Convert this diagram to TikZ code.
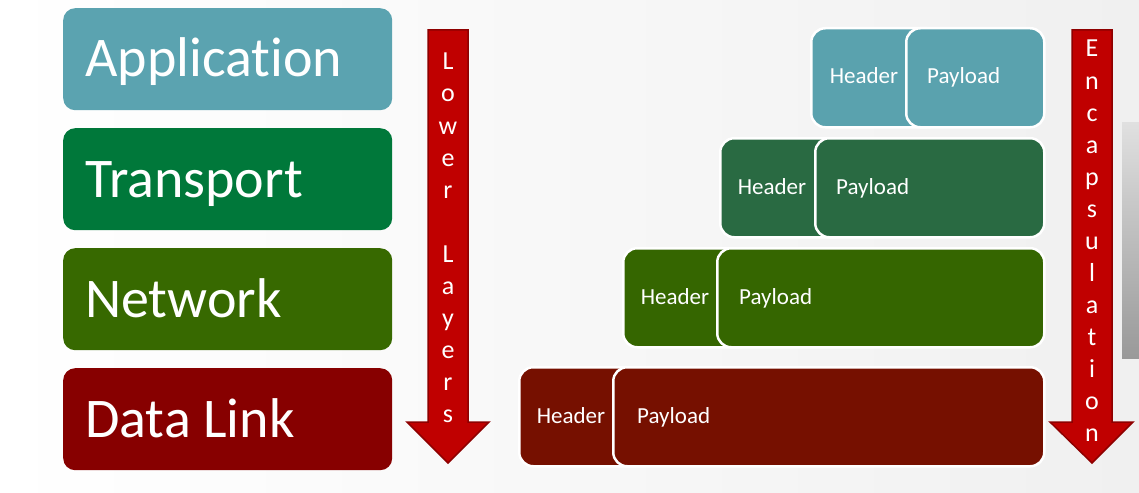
\documentclass[tikz,border=0pt]{standalone}
\usepackage{fontspec}
\setmainfont{Carlito}[Ligatures=NoCommon]
\definecolor{appC}{HTML}{5BA3B0}
\definecolor{traC}{HTML}{00783A}
\definecolor{netC}{HTML}{376900}
\definecolor{dlC}{HTML}{870000}
\definecolor{pAppC}{HTML}{5AA2AE}
\definecolor{pTraC}{HTML}{296A42}
\definecolor{pNetC}{HTML}{356600}
\definecolor{pDlC}{HTML}{761000}
\definecolor{arrC}{HTML}{C00000}
\definecolor{arrE}{HTML}{8E0000}
\definecolor{bgC}{HTML}{F0F0F0}
\begin{document}
\begin{tikzpicture}[x=1pt,y=-1pt,
  layerbox/.style={rectangle,rounded corners=12pt,anchor=north west,
    minimum width=329pt,minimum height=102pt,inner sep=0pt},
  layertext/.style={anchor=base west,text=white,inner sep=0pt,
    font=\fontsize{56}{60}\selectfont},
  pktbox/.style={rectangle,rounded corners=14pt,anchor=north west,
    minimum height=99pt,inner sep=0pt,draw=white,line width=2.5pt},
  pkttext/.style={text=white,inner sep=0pt,font=\fontsize{23}{26}\selectfont},
  arrowbody/.style={fill=arrC,draw=arrE,line width=1.5pt,line join=miter},
  arrowletter/.style={anchor=base,text=white,inner sep=0pt,
    font=\fontsize{26}{28}\selectfont}]
  % page and soft backdrop
  \useasboundingbox (0,0) rectangle (1139,492);
  \shade[left color=white,right color=bgC] (0,0) rectangle (1139,492);
  \shade[top color=black!12,bottom color=black!40] (1122,122) rectangle (1139,358);

  % layer stack
  \node[layerbox,fill=appC] (appB) at (63,8) {};
  \node[layerbox,fill=traC] (traB) at (63,128) {};
  \node[layerbox,fill=netC] (netB) at (63,248) {};
  \node[layerbox,fill=dlC]  (dlB)  at (63,368) {};
  \node[layertext] (appT) at (85,77)  {Application};
  \node[layertext] (traT) at (85,197) {Transport};
  \node[layertext] (netT) at (85,317) {Network};
  \node[layertext] (dlT)  at (85,437) {Data Link};

  % "Lower Layers" arrow
  \draw[arrowbody] (428,30) -- (468,30) -- (468,422) -- (489,422) -- (448,463)
    -- (407,422) -- (428,422) -- cycle;
  \foreach \ch [count=\i from 0] in {L,o,w,e,r,{},L,a,y,e,r,s}
    \node[arrowletter] (low\i) at (448,70+32*\i) {\ch};

  % "Encapsulation" arrow
  \draw[arrowbody] (1072,30) -- (1112,30) -- (1112,422) -- (1133,422) -- (1092,463)
    -- (1050,422) -- (1072,422) -- cycle;
  \foreach \ch [count=\i from 0] in {E,n,c,a,p,s,u,l,a,t,i,o,n}
    \node[arrowletter] (enc\i) at (1092,57+32.08*\i) {\ch};

  % packets: header box first, payload box over it
  \node[pktbox,fill=pAppC,minimum width=130pt] (h1) at (810,27) {};
  \node[pktbox,fill=pAppC,minimum width=138pt] (p1) at (905,27) {};
  \node[pktbox,fill=pTraC,minimum width=130pt] (h2) at (719,137) {};
  \node[pktbox,fill=pTraC,minimum width=229pt] (p2) at (814,137) {};
  \node[pktbox,fill=pNetC,minimum width=130pt] (h3) at (622,247) {};
  \node[pktbox,fill=pNetC,minimum width=327pt] (p3) at (716,247) {};
  \node[pktbox,fill=pDlC,minimum width=130pt]  (h4) at (518,366) {};
  \node[pktbox,fill=pDlC,minimum width=431pt]  (p4) at (612,366) {};

  \node[pkttext,anchor=base] (h1t) at (864,84) {Header};
  \node[pkttext,anchor=base west] (p1t) at (927,84) {Payload};
  \node[pkttext,anchor=base] (h2t) at (772,194) {Header};
  \node[pkttext,anchor=base west] (p2t) at (836,194) {Payload};
  \node[pkttext,anchor=base] (h3t) at (675,304) {Header};
  \node[pkttext,anchor=base west] (p3t) at (739,304) {Payload};
  \node[pkttext,anchor=base] (h4t) at (571,423) {Header};
  \node[pkttext,anchor=base west] (p4t) at (637,423) {Payload};
\end{tikzpicture}
\end{document}
